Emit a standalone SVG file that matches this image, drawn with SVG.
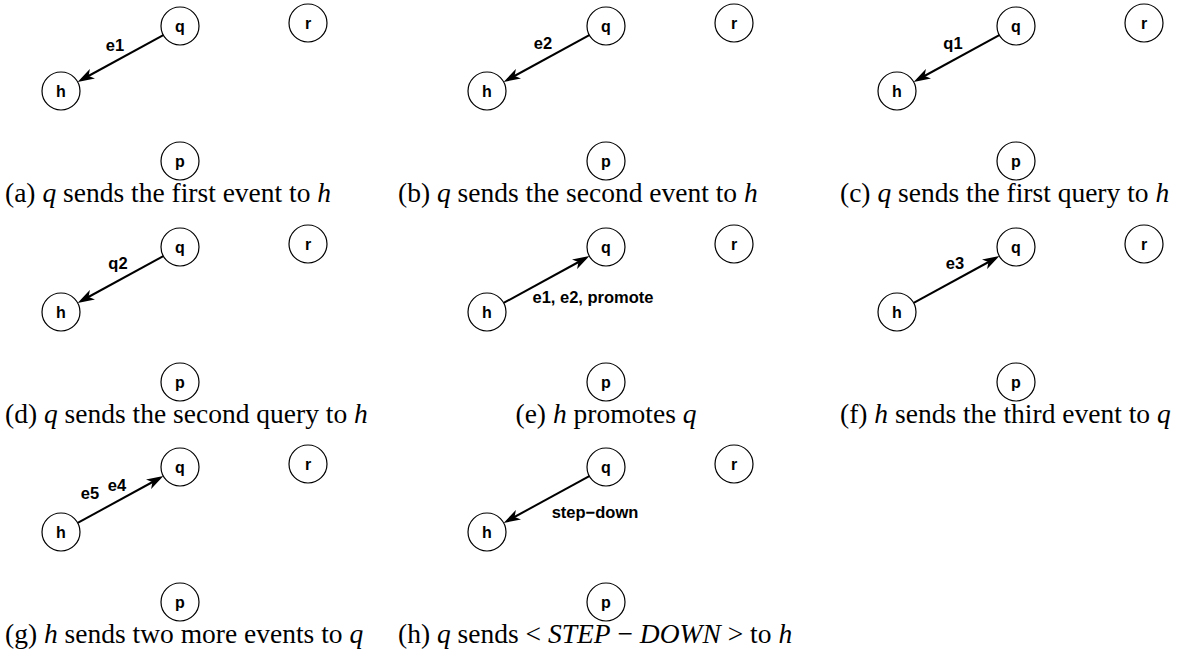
<svg xmlns="http://www.w3.org/2000/svg" width="1201" height="667" viewBox="0 0 1201 667">
<style>
.nd{fill:#fff;stroke:#000;stroke-width:1.2}
.nl{font-family:"Liberation Sans",Arial,sans-serif;font-weight:bold;font-size:16px;text-anchor:middle;dominant-baseline:central}
.el{font-family:"Liberation Sans",Arial,sans-serif;font-weight:bold;font-size:16.5px;text-anchor:middle;dominant-baseline:central}
.cap{font-family:"Liberation Serif","Times New Roman",serif;font-size:27.5px}
.it{font-style:italic}
.ed{stroke:#000;stroke-width:2;fill:none;marker-end:url(#ah)}
</style>
<defs>
<marker id="ah" markerUnits="userSpaceOnUse" markerWidth="17" markerHeight="11" refX="12" refY="5.5" orient="auto" viewBox="0 0 17 11">
<path d="M17,5.5 L0,0 L4.5,5.5 L0,11 Z" fill="#000"/>
</marker>
<g id="nodes">
<circle class="nd" cx="180" cy="26" r="19"/><text class="nl" x="180" y="26">q</text>
<circle class="nd" cx="308" cy="23" r="19"/><text class="nl" x="308" y="23">r</text>
<circle class="nd" cx="61" cy="91" r="19"/><text class="nl" x="61" y="91">h</text>
<circle class="nd" cx="180" cy="161" r="19"/><text class="nl" x="180" y="161">p</text>
</g>
</defs>

<g id="panel-a">
<use href="#nodes"/>
<g class="connectors"><line class="ed" x1="163.3" y1="35.1" x2="82" y2="79.5"/></g>
<text class="el" x="115" y="45">e1</text>
<text class="cap" x="5" y="202">(a) <tspan class="it">q</tspan> sends the first event to <tspan class="it">h</tspan></text>
</g>

<g id="panel-b" transform="translate(426,0)">
<use href="#nodes"/>
<g class="connectors"><line class="ed" x1="163.3" y1="35.1" x2="82" y2="79.5"/></g>
<text class="el" x="117" y="43">e2</text>
</g>
<text class="cap" x="398" y="202">(b) <tspan class="it">q</tspan> sends the second event to <tspan class="it">h</tspan></text>

<g id="panel-c" transform="translate(836,0)">
<use href="#nodes"/>
<g class="connectors"><line class="ed" x1="163.3" y1="35.1" x2="82" y2="79.5"/></g>
<text class="el" x="117" y="43">q1</text>
</g>
<text class="cap" x="840" y="202">(c) <tspan class="it">q</tspan> sends the first query to <tspan class="it">h</tspan></text>

<g id="panel-d" transform="translate(0,221)">
<use href="#nodes"/>
<g class="connectors"><line class="ed" x1="163.3" y1="35.1" x2="82" y2="79.5"/></g>
<text class="el" x="118" y="42">q2</text>
</g>
<text class="cap" x="5" y="423">(d) <tspan class="it">q</tspan> sends the second query to <tspan class="it">h</tspan></text>

<g id="panel-e" transform="translate(426,221)">
<use href="#nodes"/>
<g class="connectors"><line class="ed" x1="77.7" y1="81.9" x2="159" y2="37.5"/></g>
<text class="el" x="167" y="76">e1, e2, promote</text>
</g>
<text class="cap" x="606" y="423" text-anchor="middle">(e) <tspan class="it">h</tspan> promotes <tspan class="it">q</tspan></text>

<g id="panel-f" transform="translate(836,221)">
<use href="#nodes"/>
<g class="connectors"><line class="ed" x1="77.7" y1="81.9" x2="159" y2="37.5"/></g>
<text class="el" x="119" y="42">e3</text>
</g>
<text class="cap" x="840" y="423">(f) <tspan class="it">h</tspan> sends the third event to <tspan class="it">q</tspan></text>

<g id="panel-g" transform="translate(0,441)">
<use href="#nodes"/>
<g class="connectors"><line class="ed" x1="77.7" y1="81.9" x2="159" y2="37.5"/></g>
<text class="el" x="90" y="52">e5</text>
<text class="el" x="117" y="44">e4</text>
</g>
<text class="cap" x="5" y="643">(g) <tspan class="it">h</tspan> sends two more events to <tspan class="it">q</tspan></text>

<g id="panel-h" transform="translate(426,441)">
<use href="#nodes"/>
<g class="connectors"><line class="ed" x1="163.3" y1="35.1" x2="82" y2="79.5"/></g>
<text class="el" x="169" y="71">step−down</text>
</g>
<text class="cap" x="398" y="643">(h) <tspan class="it">q</tspan> sends &lt; <tspan class="it">STEP</tspan> − <tspan class="it">DOWN</tspan> &gt; to <tspan class="it">h</tspan></text>
</svg>
